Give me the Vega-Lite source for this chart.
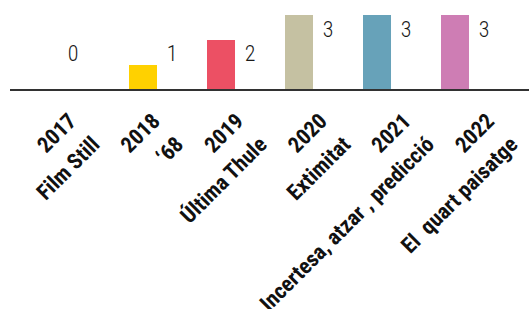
{
  "$schema": "https://vega.github.io/schema/vega-lite/v6.json",
  "autosize": "none",
  "width": 519,
  "height": 90,
  "padding": {"left": 10, "top": 0, "right": 0, "bottom": 219},
  "background": "white",
  "config": {"view": {"stroke": null}},
  "data": {
    "values": [
      {"year": "2017", "title": "Film Still", "value": 0, "label": ["2017", "Film Still"]},
      {"year": "2018", "title": "'68", "value": 1, "label": ["2018", "‘68"]},
      {"year": "2019", "title": "Última Thule", "value": 2, "label": ["2019", "Última Thule"]},
      {"year": "2020", "title": "Extimitat", "value": 3, "label": ["2020", "Extimitat"]},
      {"year": "2021", "title": "Incertesa, atzar , predicció", "value": 3, "label": ["2021", "Incertesa, atzar , predicció"]},
      {"year": "2022", "title": "El  quart paisatge", "value": 3, "label": ["2022", "El\u00a0 quart paisatge"]}
    ]
  },
  "layer": [
    {
      "layer": [
        {
          "mark": {"type": "bar"},
          "encoding": {
            "x": {"field": "year", "type": "nominal", "axis": null, "sort": null,
                  "scale": {"paddingInner": 0.641, "paddingOuter": 0.6474, "align": 0.406}},
            "y": {"field": "value", "type": "quantitative", "axis": null, "scale": {"domain": [0, 3.6], "nice": false}},
            "color": {"field": "year", "type": "nominal", "legend": null,
                      "scale": {"domain": ["2017", "2018", "2019", "2020", "2021", "2022"],
                                "range": ["#cccccc", "#FFD100", "#EC5064", "#C5C1A2", "#67A2B9", "#CE7DB4"]}}
          }
        },
        {
          "mark": {"type": "rule", "color": "#333333", "strokeWidth": 1.5, "opacity": 0.85},
          "encoding": {"y": {"datum": 0, "type": "quantitative"}}
        },
        {
          "transform": [{"filter": "datum.value == 3"}],
          "mark": {"type": "text", "font": "Roboto Condensed", "fontSize": 22, "fontWeight": 300, "color": "#1a1a1a", "align": "center", "baseline": "middle", "dx": 29, "dy": 15},
          "encoding": {
            "x": {"field": "year", "type": "nominal", "sort": null},
            "y": {"field": "value", "type": "quantitative"},
            "text": {"field": "value", "type": "quantitative"}
          }
        },
        {
          "transform": [{"filter": "datum.value == 1 || datum.value == 2"}],
          "mark": {"type": "text", "font": "Roboto Condensed", "fontSize": 22, "fontWeight": 300, "color": "#1a1a1a", "align": "center", "baseline": "middle", "dx": 29},
          "encoding": {
            "x": {"field": "year", "type": "nominal", "sort": null},
            "y": {"datum": 1.44, "type": "quantitative"},
            "text": {"field": "value", "type": "quantitative"}
          }
        },
        {
          "transform": [{"filter": "datum.value == 0"}],
          "mark": {"type": "text", "font": "Roboto Condensed", "fontSize": 22, "fontWeight": 300, "color": "#1a1a1a", "align": "center", "baseline": "middle", "dx": 8},
          "encoding": {
            "x": {"field": "year", "type": "nominal", "sort": null},
            "y": {"datum": 1.44, "type": "quantitative"},
            "text": {"field": "value", "type": "quantitative"}
          }
        }
      ]
    },
    {
      "mark": {"type": "text", "font": "Roboto Condensed", "fontSize": 22, "fontWeight": "bold", "color": "#111111", "align": "right", "baseline": "top", "angle": -45, "lineHeight": 33},
      "encoding": {
        "x": {"field": "year", "type": "ordinal", "axis": null, "sort": null,
              "scale": {"type": "point", "padding": 0.604, "align": 0.551}},
        "y": {"datum": -0.82, "type": "quantitative"},
        "text": {"field": "label"}
      }
    }
  ],
  "resolve": {"scale": {"x": "independent"}}
}
